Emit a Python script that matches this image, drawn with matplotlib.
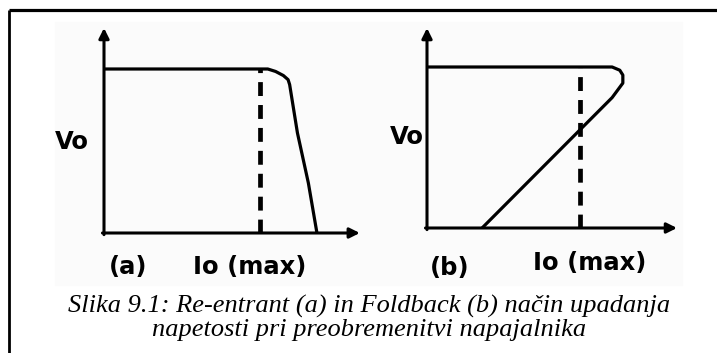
import matplotlib
matplotlib.use("Agg")
import matplotlib.pyplot as plt
from matplotlib.lines import Line2D
from matplotlib.patches import Rectangle

# Data: Io normalised to Io(max), Vo normalised to nominal output voltage

# (a) re-entrant
io_a = [0.0, 1.05, 1.10, 1.15, 1.18, 1.19, 1.24, 1.31, 1.365]
vo_a = [1.0, 1.0, 0.985, 0.96, 0.935, 0.905, 0.61, 0.305, 0.0]

# (b) foldback
io_b = [0.0, 1.21, 1.26, 1.28, 1.28, 1.21, 0.36]
vo_b = [1.0, 1.0, 0.98, 0.95, 0.90, 0.81, 0.0]

io_max = 1.0
axis_len_a = (1.64, 1.25)
axis_len_b = (1.634, 1.242)

panel_tags = ["(a)", "(b)"]
ylabel = "Vo"
xlabel = "Io (max)"
caption = ("Slika 9.1: Re-entrant (a) in Foldback (b) način upadanja\n"
           "napetosti pri preobremenitvi napajalnika")

W, H = 717, 353
plt.rcParams["lines.scale_dashes"] = False

fig = plt.figure(figsize=(W / 100, H / 100), dpi=100)

# scanned picture background + frame
fig.patches.append(Rectangle((55 / W, 1 - 285 / H), 627 / W, 263 / H,
                             transform=fig.transFigure, color="#fbfbfb",
                             zorder=-5))
fig.add_artist(Line2D([9 / W, 1], [1 - 10 / H, 1 - 10 / H], color="black",
                      lw=2.3, solid_capstyle="butt"))
fig.add_artist(Line2D([9 / W, 9 / W], [0, 1 - 10 / H], color="black",
                      lw=2.0, solid_capstyle="butt"))


def panel_ax(ox, oy, ux, uy):
    # axes whose data origin sits at pixel (ox, oy), unit lengths ux, uy
    x0, x1, y0, y1 = -0.4, 1.8, -0.4, 1.4
    left = (ox + x0 * ux) / W
    bottom = (H - (oy - y0 * uy)) / H
    ax = fig.add_axes([left, bottom, (x1 - x0) * ux / W, (y1 - y0) * uy / H])
    ax.set_xlim(x0, x1)
    ax.set_ylim(y0, y1)
    ax.set_axis_off()
    ax.patch.set_alpha(0)
    ax.set_zorder(2)
    return ax


def draw_panel(ax, io, vo, axis_len, tag, vo_pos, tag_pos, io_pos):
    arrow = dict(arrowstyle="-|>", lw=2.2, color="black",
                 mutation_scale=15, shrinkA=0, shrinkB=0)
    ax.annotate("", xy=(axis_len[0], 0), xytext=(-0.01, 0), arrowprops=arrow)
    ax.annotate("", xy=(0, axis_len[1]), xytext=(0, -0.01), arrowprops=arrow)
    ax.plot(io, vo, color="black", lw=2.3, solid_joinstyle="round",
            solid_capstyle="butt")
    ax.plot([io_max, io_max], [0, 1], color="black", lw=3.4,
            linestyle=(0, (10, 6.5)))
    font = dict(family="DejaVu Sans", weight="bold", size=17.5)
    ax.text(vo_pos[0], vo_pos[1], ylabel, ha="left", va="center", **font)
    ax.text(tag_pos[0], tag_pos[1], tag, ha="center", va="center", **font)
    ax.text(io_pos[0], io_pos[1], xlabel, ha="center", va="center", **font)


ax_a = panel_ax(104, 233, 156, 164)
draw_panel(ax_a, io_a, vo_a, axis_len_a, panel_tags[0],
           (-0.314, 0.555), (0.154, -0.207), (0.936, -0.207))

ax_b = panel_ax(427, 228, 153, 161)
draw_panel(ax_b, io_b, vo_b, axis_len_b, panel_tags[1],
           (-0.242, 0.565), (0.15, -0.248), (1.065, -0.217))

fig.text(369 / W, 1 - 318 / H, caption, ha="center", va="center",
         family="Liberation Serif", style="italic", size=19,
         linespacing=1.05)

fig.savefig("out.png", dpi=100)
